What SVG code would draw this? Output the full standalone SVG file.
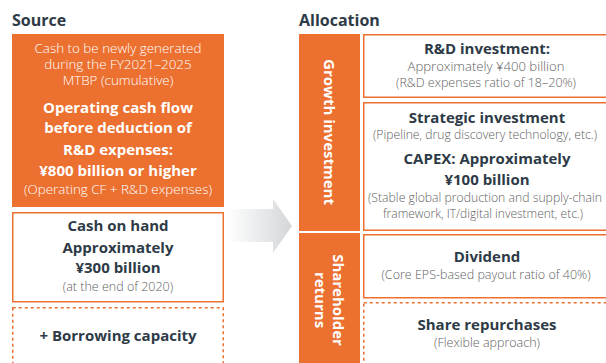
<svg xmlns="http://www.w3.org/2000/svg" width="606" height="363" viewBox="0 0 606 363">
<style>
.t{font-family:"Open Sans","Noto Sans","Liberation Sans",sans-serif;text-anchor:middle}
.h{font-size:16px;font-weight:bold;fill:#2e3b47;text-anchor:start}
.b{font-size:15px;font-weight:bold;fill:#2e3b47}
.r{font-size:12.5px;fill:#626262;font-weight:300}
.wb{font-size:15px;font-weight:bold;fill:#fff}
.wr{font-size:13.4px;fill:#fff;font-weight:300}
.box{fill:#fff;stroke:#ec7030;stroke-width:1.5}
.dash{fill:#fff;stroke:#ec7030;stroke-width:1.5;stroke-dasharray:3 3}
.or{fill:#ec7030}
</style>
<defs>
<linearGradient id="ag" x1="0" y1="0" x2="1" y2="0">
<stop offset="0" stop-color="#ffffff"/>
<stop offset="1" stop-color="#d3d6d9"/>
</linearGradient>
</defs>
<text class="t h" x="12" y="26">Source</text>
<text class="t h" x="299" y="26">Allocation</text>
<g id="connectors">
<path d="M227,209 L273,209 L273,199 L292,226 L273,253 L273,242 L227,242 Z" fill="url(#ag)"/>
</g>
<g id="source-cf">
<rect class="or" x="12" y="34" width="212" height="173"/>
<text class="t wr" x="118" y="53">Cash to be newly generated</text>
<text class="t wr" x="118" y="69">during the FY2021–2025</text>
<text class="t wr" x="118" y="85">MTBP (cumulative)</text>
<text class="t wb" x="118" y="113">Operating cash flow</text>
<text class="t wb" x="118" y="133">before deduction of</text>
<text class="t wb" x="118" y="155">R&amp;D expenses:</text>
<text class="t wb" x="118" y="176">¥800 billion or higher</text>
<text class="t wr" x="118" y="194">(Operating CF + R&amp;D expenses)</text>
</g>
<g id="source-cash">
<rect class="box" x="12.75" y="212.75" width="210.5" height="89"/>
<text class="t b" x="118" y="231">Cash on hand</text>
<text class="t b" x="118" y="253">Approximately</text>
<text class="t b" x="118" y="273">¥300 billion</text>
<text class="t r" x="118" y="291">(at the end of 2020)</text>
</g>
<g id="source-borrow">
<rect class="dash" x="12.75" y="307.75" width="210.5" height="70"/>
<text class="t b" x="118" y="341">+ Borrowing capacity</text>
</g>
<g id="growth-label">
<rect class="or" x="299" y="34" width="61" height="197"/>
<text class="t wb" transform="translate(329,132) rotate(90)" y="5">Growth investment</text>
</g>
<g id="shareholder-label">
<rect class="or" x="299" y="233" width="61" height="135"/>
<text class="t wb" transform="translate(330,300) rotate(90)" y="-3">Shareholder</text>
<text class="t wb" transform="translate(330,300) rotate(90)" y="15">returns</text>
</g>
<g id="rd">
<rect class="box" x="363.75" y="34.75" width="250" height="62.5"/>
<text class="t b" x="487" y="54">R&amp;D investment:</text>
<text class="t r" x="486" y="71" textLength="157" lengthAdjust="spacingAndGlyphs">Approximately ¥400 billion</text>
<text class="t r" x="486" y="87">(R&amp;D expenses ratio of 18–20%)</text>
</g>
<g id="strategic">
<rect class="box" x="363.75" y="102.75" width="250" height="127.5"/>
<text class="t b" x="487" y="123">Strategic investment</text>
<text class="t r" x="485" y="139" textLength="224" lengthAdjust="spacingAndGlyphs">(Pipeline, drug discovery technology, etc.)</text>
<text class="t b" x="487" y="164">CAPEX: Approximately</text>
<text class="t b" x="487" y="185">¥100 billion</text>
<text class="t r" x="485" y="202" textLength="234" lengthAdjust="spacingAndGlyphs">(Stable global production and supply-chain</text>
<text class="t r" x="483" y="218" textLength="200" lengthAdjust="spacingAndGlyphs">framework, IT/digital investment, etc.)</text>
</g>
<g id="dividend">
<rect class="box" x="363.75" y="234.75" width="250" height="63"/>
<text class="t b" x="487" y="262">Dividend</text>
<text class="t r" x="486" y="279">(Core EPS-based payout ratio of 40%)</text>
</g>
<g id="repurchase">
<rect class="dash" x="363.75" y="302.75" width="250" height="70"/>
<text class="t b" x="487" y="330">Share repurchases</text>
<text class="t r" x="487" y="347">(Flexible approach)</text>
</g>
</svg>
